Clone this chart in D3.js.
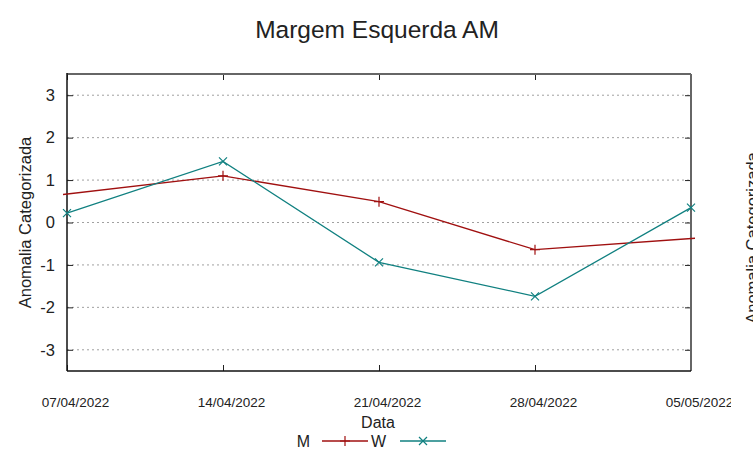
<!DOCTYPE html>
<html>
<head>
<meta charset="utf-8">
<script src="https://cdn.jsdelivr.net/npm/d3@7"></script>
<style>
  body { margin: 0; background: #fff; }
  text { font-family: "Liberation Sans", Arial, sans-serif; fill: #222; }
</style>
</head>
<body>
<svg id="chart" width="753" height="459"></svg>
<script>
const dates = ["07/04/2022", "14/04/2022", "21/04/2022", "28/04/2022", "05/05/2022"];
const yTicks = [-3, -2, -1, 0, 1, 2, 3];
// M runs a little past the window on both ends (its end markers fall outside)
const mDates = ["06/04/2022", "14/04/2022", "21/04/2022", "28/04/2022", "06/05/2022"];
const mValues = [0.61, 1.1, 0.49, -0.64, -0.34];
const wDates = dates;
const wValues = [0.22, 1.44, -0.94, -1.74, 0.35];

const parse = d3.timeParse("%d/%m/%Y");
const width = 753, height = 459;
const margin = { top: 74, right: 62, bottom: 88, left: 67 };

const svg = d3.select("#chart");

const x = d3.scaleTime()
  .domain([parse(dates[0]), parse(dates[dates.length - 1])])
  .range([margin.left, width - margin.right]);
const y = d3.scaleLinear()
  .domain([-3.5, 3.5])
  .range([height - margin.bottom, margin.top]);

const panel = svg.append("g");
svg.append("defs").append("clipPath").attr("id", "panel")
  .append("rect").attr("x", 0).attr("y", 0).attr("width", 731).attr("height", height);
svg.select("defs").append("clipPath").attr("id", "plot")
  .append("rect")
  .attr("x", margin.left - 4).attr("y", margin.top)
  .attr("width", width - margin.right - margin.left + 8)
  .attr("height", height - margin.bottom - margin.top);
panel.attr("clip-path", "url(#panel)");

// grid
panel.append("g")
  .selectAll("line")
  .data(yTicks)
  .join("line")
  .attr("x1", margin.left).attr("x2", width - margin.right)
  .attr("y1", (d) => y(d)).attr("y2", (d) => y(d))
  .attr("stroke", "#a0a0a0").attr("stroke-width", 1).attr("stroke-dasharray", "2,3");

// axes
const xAxis = d3.axisBottom(x).tickValues(dates.map(parse)).tickSize(-6).tickSizeOuter(0)
  .tickFormat(d3.timeFormat("%d/%m/%Y"));
panel.append("g")
  .attr("transform", `translate(0,${height - margin.bottom})`)
  .call(xAxis)
  .call((g) => g.select(".domain").remove())
  .call((g) => g.selectAll(".tick line").attr("stroke", "#222"))
  .call((g) => g.selectAll(".tick text")
    .attr("dx", 8).attr("y", 26)
    .style("font-size", "13.5px").style("font-family", "Liberation Sans, Arial, sans-serif").attr("fill", "#222"));
panel.append("g")
  .attr("transform", `translate(0,${margin.top})`)
  .call(d3.axisTop(x).tickValues(dates.map(parse)).tickSize(-6).tickFormat(""))
  .call((g) => g.select(".domain").remove())
  .call((g) => g.selectAll(".tick line").attr("stroke", "#222"));

panel.append("g")
  .attr("transform", `translate(${margin.left},0)`)
  .call(d3.axisLeft(y).tickValues(yTicks).tickSize(-6).tickFormat((d) => String(d)))
  .call((g) => g.select(".domain").remove())
  .call((g) => g.selectAll(".tick line").attr("stroke", "#222"))
  .call((g) => g.selectAll(".tick text")
    .attr("x", -12)
    .style("font-size", "16.5px").style("font-family", "Liberation Sans, Arial, sans-serif").attr("fill", "#222"));
panel.append("g")
  .attr("transform", `translate(${width - margin.right},0)`)
  .call(d3.axisRight(y).tickValues(yTicks).tickSize(-6).tickFormat(""))
  .call((g) => g.select(".domain").remove())
  .call((g) => g.selectAll(".tick line").attr("stroke", "#222"));

// border
const x0 = margin.left, x1 = width - margin.right, y0 = margin.top, y1 = height - margin.bottom;
panel.append("line").attr("x1", x0).attr("x2", x1).attr("y1", y0).attr("y2", y0)
  .attr("stroke", "#666").attr("stroke-width", 2);
panel.append("line").attr("x1", x1).attr("x2", x1).attr("y1", y0).attr("y2", y1)
  .attr("stroke", "#666").attr("stroke-width", 2);
panel.append("line").attr("x1", x0).attr("x2", x0).attr("y1", y0 - 1).attr("y2", y1)
  .attr("stroke", "#111").attr("stroke-width", 1.5);
panel.append("line").attr("x1", x0).attr("x2", x1).attr("y1", y1).attr("y2", y1)
  .attr("stroke", "#111").attr("stroke-width", 1.5);

// series
const mColor = "#a01010", wColor = "#108080";
const line = d3.line().x((d) => x(d.date)).y((d) => y(d.value));
const mData = mDates.map((d, i) => ({ date: parse(d), value: mValues[i] }));
const wData = wDates.map((d, i) => ({ date: parse(d), value: wValues[i] }));

const plot = panel.append("g").attr("clip-path", "url(#plot)");
plot.append("path").datum(mData).attr("d", line)
  .attr("fill", "none").attr("stroke", mColor).attr("stroke-width", 1.3);
plot.append("path").datum(wData).attr("d", line)
  .attr("fill", "none").attr("stroke", wColor).attr("stroke-width", 1.3);

const plusPath = (cx, cy, s) => `M${cx - s},${cy}H${cx + s}M${cx},${cy - s}V${cy + s}`;
const crossPath = (cx, cy, s) => `M${cx - s},${cy - s}L${cx + s},${cy + s}M${cx - s},${cy + s}L${cx + s},${cy - s}`;

plot.append("g").selectAll("path")
  .data(mData.filter((d) => d.date >= x.domain()[0] && d.date <= x.domain()[1]))
  .join("path")
  .attr("d", (d) => plusPath(x(d.date), y(d.value), 5))
  .attr("stroke", mColor).attr("stroke-width", 1.2);
panel.append("g").selectAll("path")
  .data(wData)
  .join("path")
  .attr("d", (d) => crossPath(x(d.date), y(d.value), 4))
  .attr("stroke", wColor).attr("stroke-width", 1.2);

// labels
svg.append("text").attr("x", 377).attr("y", 38).attr("text-anchor", "middle")
  .style("font-size", "24.5px").text("Margem Esquerda AM");
svg.append("text").attr("transform", `translate(31,${(y0 + y1) / 2}) rotate(-90)`)
  .attr("text-anchor", "middle").style("font-size", "16.5px").text("Anomalia Categorizada");
// y label of the neighbouring panel, cut by the window edge as in the reference
svg.append("text").attr("transform", `translate(758,238) rotate(-90)`)
  .attr("text-anchor", "middle").style("font-size", "16.5px").text("Anomalia Categorizada");
svg.append("text").attr("x", 378).attr("y", 428).attr("text-anchor", "middle")
  .style("font-size", "16px").text("Data");

// legend
const legend = [
  { name: "M", color: mColor, marker: plusPath, tx: 310, lx: 322 },
  { name: "W", color: wColor, marker: crossPath, tx: 386, lx: 400 }
];
const lg = svg.append("g");
legend.forEach((d) => {
  lg.append("text").attr("x", d.tx).attr("y", 447).attr("text-anchor", "end")
    .style("font-size", "16px").text(d.name);
  lg.append("line").attr("x1", d.lx).attr("x2", d.lx + 46).attr("y1", 441).attr("y2", 441)
    .attr("stroke", d.color).attr("stroke-width", 1.3);
  lg.append("path").attr("d", d.marker(d.lx + 23, 441, d.name === "M" ? 5 : 4))
    .attr("stroke", d.color).attr("stroke-width", 1.2);
});
</script>
</body>
</html>
